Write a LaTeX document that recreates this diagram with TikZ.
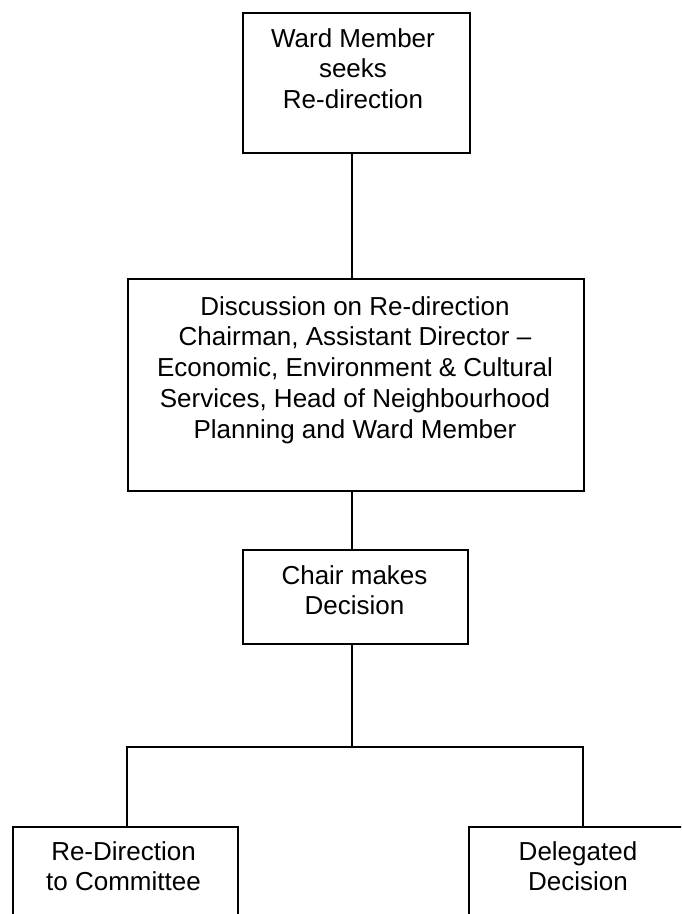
\documentclass[tikz,border=0pt]{standalone}
\usepackage{fontspec}
\setmainfont{Liberation Sans}
\begin{document}
\begin{tikzpicture}[x=1pt,y=-1pt,
  box/.style={draw=black,line width=2pt,rectangle,inner sep=0pt,anchor=north west},
  label text/.style={anchor=north,inner sep=0pt,align=center,font={\fontsize{26}{30.7}\selectfont}},
  conn/.style={draw=black,line width=2pt}]
\clip (0,0) rectangle (681,914);
\fill[white] (0,0) rectangle (681,914);
% boxes
\node[box,minimum width=227pt,minimum height=140pt] (wm) at (242,12) {};
\node[box,minimum width=456pt,minimum height=212pt] (disc) at (127,278) {};
\node[box,minimum width=225pt,minimum height=94pt] (chair) at (242,549) {};
\node[box,minimum width=225pt,minimum height=140pt] (redir) at (12,826) {};
\node[box,minimum width=260pt,minimum height=140pt] (deleg) at (468,826) {};
% texts (first baseline 22pt below the node top)
\node[label text] (wmt) at (353,25) {\rule{0pt}{22pt}Ward Member\\seeks\\Re-direction};
\node[label text] (disct) at (355,293) {\rule{0pt}{22pt}Discussion on Re-direction\\Chairman, Assistant Director --\\Economic, Environment \& Cultural\\Services, Head of Neighbourhood\\Planning and Ward Member};
\node[label text] (chairt) at (354.5,562) {\rule{0pt}{22pt}Chair makes\\Decision};
\node[label text] (redirt) at (123.5,838) {\rule{0pt}{22pt}Re-Direction\\to Committee};
\node[label text] (delegt) at (578,838) {\rule{0pt}{22pt}Delegated\\Decision};
% connectors
\coordinate (spine) at (352,0);
\coordinate (lx) at (127,747);
\coordinate (rx) at (583,747);
\draw[conn] (wm.south -| spine) -- (disc.north -| spine);
\draw[conn] (disc.south -| spine) -- (chair.north -| spine);
\draw[conn] (chair.south -| spine) -- (spine |- lx);
\draw[conn] (redir.north -| lx) -- (lx) -- (rx) -- (deleg.north -| rx);
\end{tikzpicture}
\end{document}
